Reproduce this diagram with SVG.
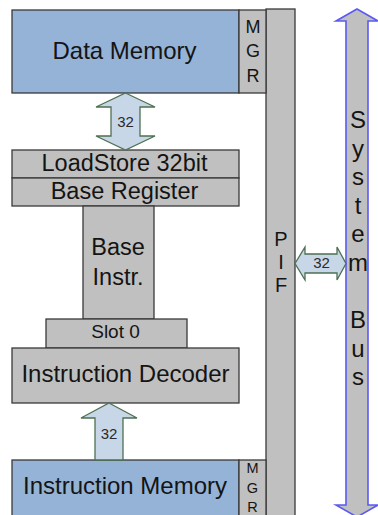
<svg xmlns="http://www.w3.org/2000/svg" width="378" height="515" viewBox="0 0 378 515">
  <style>
    .box { stroke: #3a3a3a; stroke-width: 1.3; }
    .gray { fill: #c0c0c0; }
    .mem { fill: #95b3d7; }
    .bw { fill: #c8d7e8; stroke: #4d7052; stroke-width: 1.3; stroke-linejoin: miter; }
    .bus { fill: #c0c0c0; stroke: #5a5af2; stroke-width: 1.6; stroke-linejoin: miter; }
    text { font-family: "Liberation Sans", Arial, sans-serif; fill: #141414; text-anchor: middle; }
    .big { font-size: 24px; }
    .mid { font-size: 23.5px; }
    .w { font-size: 15px; fill: #2a2a2a; }
  </style>
  <rect width="378" height="515" fill="#ffffff"/>

  <!-- processor interface bar -->
  <g id="pif">
    <rect class="box gray" x="266" y="9" width="29" height="520"/>
    <text x="281" y="246" font-size="20">P</text>
    <text x="281" y="268.5" font-size="20">I</text>
    <text x="281" y="291.5" font-size="20">F</text>
  </g>

  <g id="data-memory">
    <rect class="box mem" x="12" y="10" width="227" height="83"/>
    <text class="big" x="124.5" y="59">Data Memory</text>
  </g>

  <g id="data-mgr">
    <rect class="box gray" x="239" y="10" width="27" height="83"/>
    <text x="253" y="33" font-size="18">M</text>
    <text x="253" y="57" font-size="18">G</text>
    <text x="253" y="81.5" font-size="18">R</text>
  </g>

  <g id="loadstore">
    <rect class="box gray" x="12" y="150" width="227" height="28"/>
    <text class="mid" x="124.5" y="171">LoadStore 32bit</text>
  </g>

  <g id="base-register">
    <rect class="box gray" x="12" y="178" width="227" height="28"/>
    <text class="mid" x="124.5" y="199">Base Register</text>
  </g>

  <g id="base-instr">
    <rect class="box gray" x="83" y="206" width="71" height="113"/>
    <text class="mid" x="118" y="255">Base</text>
    <text class="mid" x="118" y="285">Instr.</text>
  </g>

  <g id="slot0">
    <rect class="box gray" x="46" y="319" width="141" height="29"/>
    <text x="115.5" y="338" font-size="19">Slot 0</text>
  </g>

  <g id="instruction-decoder">
    <rect class="box gray" x="12" y="348" width="227" height="55"/>
    <text class="big" x="125.5" y="382">Instruction Decoder</text>
  </g>

  <g id="instruction-memory">
    <rect class="box mem" x="12" y="460" width="227" height="70"/>
    <text class="big" x="125" y="494">Instruction Memory</text>
  </g>

  <g id="instr-mgr">
    <rect class="box gray" x="239" y="460" width="27" height="70"/>
    <text x="252.5" y="473" font-size="14.5">M</text>
    <text x="252.5" y="493" font-size="14.5">G</text>
    <text x="252.5" y="512" font-size="14.5">R</text>
  </g>

  <!-- system bus -->
  <g id="system-bus">
    <path class="bus" d="M357,9 L378,21 L368,21 L368,505 L378,505 L357,517 L336,505 L346,505 L346,21 L336,21 Z"/>
    <text x="358" y="128" font-size="24">S</text>
    <text x="358" y="156.6" font-size="24">y</text>
    <text x="358" y="185.2" font-size="24">s</text>
    <text x="358" y="213.8" font-size="24">t</text>
    <text x="358" y="242.4" font-size="24">e</text>
    <text x="358" y="271" font-size="24">m</text>
    <text x="358" y="328.2" font-size="24">B</text>
    <text x="358" y="356.8" font-size="24">u</text>
    <text x="358" y="385.4" font-size="24">s</text>
  </g>

  <!-- 32-bit connectors -->
  <g id="connectors">
    <path class="bw" d="M125.5,93 L155,107 L140,107 L140,136 L155,136 L125.5,150 L96,136 L111,136 L111,107 L96,107 Z"/>
    <text class="w" x="125.5" y="127">32</text>

    <path class="bw" d="M109,403 L137,418 L123,418 L123,460 L95,460 L95,418 L81,418 Z"/>
    <text class="w" x="109" y="439">32</text>

    <path class="bw" d="M295,263.5 L305,247 L305,254 L337,254 L337,247 L346,263.5 L337,280 L337,273 L305,273 L305,280 Z"/>
    <text class="w" x="321.5" y="268">32</text>
  </g>
</svg>
